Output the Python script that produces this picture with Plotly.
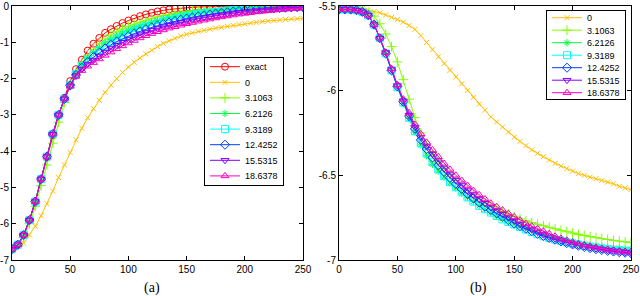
import plotly.graph_objects as go

X = list(range(0, 251, 5))

# ---------- panel (a) ----------
L_exact = [-6.70,-6.57,-6.32,-5.90,-5.38,-4.77,-4.17,-3.57,-3.02,-2.53,-2.07,-1.74,-1.48,-1.23,-1.04,-0.88,-0.74,-0.64,-0.55,-0.47,
           -0.40,-0.34,-0.28,-0.23,-0.19,-0.15,-0.12,-0.095,-0.075,-0.06,-0.045,-0.035,-0.027,-0.02,-0.015,-0.012,-0.009,-0.007,-0.005,-0.004,
           -0.003,-0.002,-0.002,-0.001,-0.001,-0.001,0,0,0,0,0]
L_0 = [-6.67,-6.62,-6.53,-6.31,-6.07,-5.78,-5.45,-5.10,-4.73,-4.38,-4.04,-3.69,-3.37,-3.08,-2.83,-2.60,-2.38,-2.18,-2.00,-1.83,
       -1.68,-1.55,-1.43,-1.32,-1.22,-1.12,-1.03,-0.96,-0.89,-0.83,-0.78,-0.74,-0.70,-0.67,-0.64,-0.61,-0.585,-0.56,-0.535,-0.51,
       -0.49,-0.47,-0.45,-0.43,-0.415,-0.40,-0.385,-0.37,-0.36,-0.35,-0.34]
L_31 = [-6.70,-6.60,-6.38,-6.00,-5.52,-4.95,-4.38,-3.78,-3.20,-2.66,-2.18,-1.82,-1.56,-1.36,-1.19,-1.04,-0.91,-0.80,-0.71,-0.63,
        -0.56,-0.50,-0.44,-0.39,-0.34,-0.30,-0.26,-0.23,-0.20,-0.175,-0.15,-0.13,-0.115,-0.10,-0.085,-0.075,-0.065,-0.055,-0.047,-0.04,
        -0.034,-0.029,-0.024,-0.02,-0.017,-0.014,-0.011,-0.009,-0.007,-0.005,-0.004]
L_62 = [-6.70,-6.58,-6.31,-5.90,-5.39,-4.77,-4.15,-3.53,-3.00,-2.56,-2.17,-1.86,-1.62,-1.43,-1.28,-1.14,-1.02,-0.92,-0.83,-0.75,
        -0.68,-0.61,-0.55,-0.50,-0.45,-0.40,-0.36,-0.32,-0.285,-0.255,-0.225,-0.20,-0.175,-0.155,-0.135,-0.12,-0.105,-0.09,-0.08,-0.07,
        -0.06,-0.052,-0.045,-0.039,-0.033,-0.028,-0.024,-0.02,-0.017,-0.014,-0.012]
L_93 = [-6.70,-6.58,-6.31,-5.90,-5.39,-4.77,-4.15,-3.53,-3.00,-2.56,-2.18,-1.88,-1.66,-1.48,-1.34,-1.21,-1.09,-0.99,-0.90,-0.82,
        -0.75,-0.68,-0.62,-0.565,-0.515,-0.47,-0.425,-0.385,-0.35,-0.315,-0.285,-0.255,-0.23,-0.205,-0.185,-0.165,-0.145,-0.13,-0.115,-0.10,
        -0.09,-0.08,-0.07,-0.06,-0.052,-0.045,-0.038,-0.032,-0.027,-0.023,-0.019]
L_124 = [-6.70,-6.58,-6.31,-5.90,-5.39,-4.77,-4.15,-3.53,-3.00,-2.56,-2.19,-1.90,-1.70,-1.54,-1.41,-1.29,-1.17,-1.07,-0.98,-0.90,
         -0.83,-0.76,-0.70,-0.64,-0.59,-0.54,-0.495,-0.455,-0.415,-0.38,-0.345,-0.315,-0.285,-0.26,-0.235,-0.21,-0.19,-0.17,-0.15,-0.135,
         -0.12,-0.105,-0.093,-0.082,-0.072,-0.063,-0.055,-0.047,-0.04,-0.034,-0.029]
L_155 = [-6.70,-6.58,-6.31,-5.90,-5.39,-4.77,-4.15,-3.53,-3.00,-2.56,-2.20,-1.92,-1.74,-1.60,-1.49,-1.38,-1.27,-1.17,-1.08,-1.00,
         -0.92,-0.85,-0.79,-0.73,-0.67,-0.62,-0.57,-0.53,-0.49,-0.45,-0.41,-0.38,-0.35,-0.32,-0.29,-0.265,-0.24,-0.215,-0.195,-0.175,
         -0.155,-0.14,-0.125,-0.11,-0.097,-0.085,-0.074,-0.064,-0.055,-0.047,-0.04]
L_186 = [-6.70,-6.58,-6.31,-5.90,-5.39,-4.77,-4.15,-3.53,-3.00,-2.56,-2.21,-1.94,-1.78,-1.66,-1.56,-1.46,-1.36,-1.27,-1.18,-1.10,
         -1.02,-0.95,-0.88,-0.82,-0.76,-0.71,-0.66,-0.61,-0.57,-0.53,-0.49,-0.455,-0.42,-0.39,-0.36,-0.33,-0.30,-0.275,-0.25,-0.225,
         -0.205,-0.185,-0.165,-0.147,-0.13,-0.115,-0.10,-0.087,-0.075,-0.064,-0.054]

# ---------- panel (b) ----------
R_0 = [-5.50,-5.50,-5.505,-5.51,-5.515,-5.525,-5.533,-5.54,-5.553,-5.567,-5.58,-5.595,-5.615,-5.638,-5.675,-5.715,-5.758,-5.80,-5.84,-5.88,
       -5.92,-5.96,-6.00,-6.04,-6.08,-6.115,-6.155,-6.185,-6.215,-6.245,-6.275,-6.30,-6.325,-6.35,-6.37,-6.39,-6.41,-6.43,-6.445,-6.46,
       -6.475,-6.49,-6.50,-6.51,-6.52,-6.53,-6.54,-6.55,-6.565,-6.575,-6.585]
R_31 = [-5.52,-5.52,-5.52,-5.522,-5.527,-5.535,-5.56,-5.605,-5.665,-5.74,-5.83,-5.935,-6.05,-6.16,-6.25,-6.32,-6.375,-6.42,-6.46,-6.495,
        -6.53,-6.56,-6.59,-6.615,-6.64,-6.66,-6.68,-6.70,-6.715,-6.73,-6.745,-6.757,-6.768,-6.779,-6.789,-6.798,-6.807,-6.816,-6.825,-6.833,
        -6.841,-6.848,-6.855,-6.862,-6.868,-6.874,-6.879,-6.884,-6.889,-6.893,-6.897]
R_62 = [-5.52,-5.52,-5.521,-5.525,-5.535,-5.555,-5.61,-5.69,-5.78,-5.88,-5.98,-6.075,-6.165,-6.245,-6.32,-6.385,-6.435,-6.475,-6.51,-6.545,
        -6.575,-6.605,-6.63,-6.655,-6.68,-6.70,-6.72,-6.74,-6.755,-6.77,-6.785,-6.80,-6.813,-6.826,-6.838,-6.85,-6.86,-6.87,-6.878,-6.886,
        -6.893,-6.90,-6.906,-6.912,-6.917,-6.922,-6.926,-6.93,-6.933,-6.936,-6.938]
R_93 = [-5.52,-5.52,-5.521,-5.525,-5.535,-5.555,-5.61,-5.69,-5.78,-5.88,-5.98,-6.07,-6.16,-6.24,-6.31,-6.37,-6.42,-6.465,-6.505,-6.54,
        -6.57,-6.60,-6.63,-6.655,-6.68,-6.70,-6.72,-6.74,-6.76,-6.775,-6.79,-6.805,-6.82,-6.835,-6.848,-6.86,-6.87,-6.88,-6.888,-6.896,
        -6.903,-6.91,-6.916,-6.922,-6.927,-6.932,-6.936,-6.94,-6.943,-6.946,-6.948]
R_124 = [-5.52,-5.52,-5.521,-5.525,-5.535,-5.555,-5.61,-5.69,-5.78,-5.88,-5.975,-6.065,-6.15,-6.225,-6.29,-6.345,-6.395,-6.44,-6.48,-6.515,
         -6.55,-6.58,-6.61,-6.635,-6.66,-6.685,-6.705,-6.725,-6.745,-6.765,-6.785,-6.80,-6.815,-6.83,-6.845,-6.858,-6.87,-6.88,-6.89,-6.90,
         -6.908,-6.916,-6.923,-6.93,-6.936,-6.941,-6.946,-6.95,-6.954,-6.957,-6.96]
R_155 = [-5.52,-5.52,-5.521,-5.525,-5.535,-5.555,-5.61,-5.69,-5.775,-5.875,-5.97,-6.06,-6.145,-6.215,-6.275,-6.33,-6.375,-6.42,-6.46,-6.495,
         -6.53,-6.56,-6.59,-6.615,-6.64,-6.665,-6.69,-6.71,-6.73,-6.75,-6.77,-6.79,-6.805,-6.82,-6.835,-6.85,-6.865,-6.875,-6.885,-6.895,
         -6.905,-6.913,-6.92,-6.927,-6.933,-6.938,-6.943,-6.947,-6.951,-6.955,-6.958]
R_186 = [-5.52,-5.52,-5.521,-5.525,-5.535,-5.555,-5.61,-5.69,-5.775,-5.87,-5.965,-6.05,-6.13,-6.20,-6.255,-6.305,-6.35,-6.39,-6.43,-6.465,
         -6.50,-6.53,-6.56,-6.59,-6.615,-6.64,-6.665,-6.685,-6.705,-6.725,-6.745,-6.765,-6.785,-6.80,-6.815,-6.83,-6.845,-6.86,-6.872,-6.883,
         -6.893,-6.902,-6.91,-6.918,-6.925,-6.932,-6.938,-6.943,-6.948,-6.952,-6.955]

NAMES = ["exact", "0", "3.1063", "6.2126", "9.3189", "12.4252", "15.5315", "18.6378"]
COLORS = ["#ff0000", "#ffbf00", "#80ff00", "#00ff40", "#00ffff", "#0040ff", "#8000ff", "#ff00bf"]
SYMBOLS = ["circle-open", "x-thin-open", "cross-thin-open", "asterisk-open", "square-open",
           "diamond-open", "triangle-down-open", "triangle-up-open"]
SIZES = [7, 5, 7, 6, 7, 7, 7, 7]

X_TICKS = [0, 50, 100, 150, 200, 250]
X_TICKTEXT = ["0", "50", "100", "150", "200", "250"]
YA_TICKS = [0, -1, -2, -3, -4, -5, -6, -7]
YA_TICKTEXT = ["0", "-1", "-2", "-3", "-4", "-5", "-6", "-7"]
YB_TICKS = [-5.5, -6, -6.5, -7]
YB_TICKTEXT = ["-5.5", "-6", "-6.5", "-7"]

left_series = [L_exact, L_0, L_31, L_62, L_93, L_124, L_155, L_186]
right_series = [R_0, R_31, R_62, R_93, R_124, R_155, R_186]

fig = go.Figure()
for i, ys in enumerate(left_series):
    fig.add_trace(go.Scatter(
        x=X, y=ys, name=NAMES[i], mode="lines+markers",
        line=dict(color=COLORS[i], width=1),
        marker=dict(symbol=SYMBOLS[i], size=SIZES[i], color=COLORS[i], line=dict(color=COLORS[i], width=1)),
        xaxis="x", yaxis="y", legend="legend"))
for j, ys in enumerate(right_series):
    i = j + 1
    fig.add_trace(go.Scatter(
        x=X, y=ys, name=NAMES[i], mode="lines+markers",
        line=dict(color=COLORS[i], width=1),
        marker=dict(symbol=SYMBOLS[i], size=SIZES[i], color=COLORS[i], line=dict(color=COLORS[i], width=1)),
        xaxis="x2", yaxis="y2", legend="legend2"))

W, H = 640, 296
ax_common = dict(showline=True, linecolor="black", linewidth=1, mirror="ticks", ticks="inside",
                 ticklen=4, tickcolor="black", showgrid=False, zeroline=False, automargin=False,
                 tickfont=dict(family="Liberation Sans", size=10, color="black"))
ydom = [1 - 260 / H, 1 - 6 / H]
leg_font = dict(family="Liberation Sans", size=9, color="black")
fig.update_layout(
    width=W, height=H, margin=dict(l=0, r=0, t=0, b=0, autoexpand=False),
    plot_bgcolor="white", paper_bgcolor="white", showlegend=True,
    xaxis=dict(domain=[12 / W, 303 / W], range=[0, 250], tickvals=X_TICKS, ticktext=X_TICKTEXT, anchor="y", **ax_common),
    yaxis=dict(domain=ydom, range=[-7, 0], tickvals=YA_TICKS, ticktext=YA_TICKTEXT, anchor="x", **ax_common),
    xaxis2=dict(domain=[339 / W, 631 / W], range=[0, 250], tickvals=X_TICKS, ticktext=X_TICKTEXT, anchor="y2", **ax_common),
    yaxis2=dict(domain=ydom, range=[-7, -5.5], tickvals=YB_TICKS, ticktext=YB_TICKTEXT, anchor="x2", **ax_common),
    legend=dict(x=204 / W, y=1 - 57 / H, xanchor="left", yanchor="top", bgcolor="white",
                bordercolor="black", borderwidth=1, font=leg_font, itemwidth=30, tracegroupgap=0),
    legend2=dict(x=546 / W, y=1 - 10 / H, xanchor="left", yanchor="top", bgcolor="white",
                 bordercolor="black", borderwidth=1, font=leg_font, itemwidth=30, tracegroupgap=0),
    annotations=[
        dict(text="(a)", x=152 / W, y=1 - 288 / H, xref="paper", yref="paper", showarrow=False,
             xanchor="center", yanchor="middle",
             font=dict(family="Liberation Serif", size=14, color="black")),
        dict(text="(b)", x=478 / W, y=1 - 288 / H, xref="paper", yref="paper", showarrow=False,
             xanchor="center", yanchor="middle",
             font=dict(family="Liberation Serif", size=14, color="black")),
    ],
)

POST = r"""
document.body.style.margin = '0px';
var gd = document.getElementById('{plot_id}');
function sq(cls, first, step, bottom) {
  try {
    var leg = gd.querySelector('g.' + cls);
    if (!leg) return;
    var tr = leg.querySelectorAll('g.traces');
    for (var i = 0; i < tr.length; i++) {
      var t = tr[i].getAttribute('transform') || '';
      var m = /translate\(\s*([-\d.e]+)[ ,]+([-\d.e]+)\s*\)/.exec(t);
      var x = m ? m[1] : 0;
      tr[i].setAttribute('transform', 'translate(' + x + ',' + (first + i * step) + ')');
    }
    var bg = leg.querySelector('rect.bg');
    if (bg) bg.setAttribute('height', first + (tr.length - 1) * step + bottom);
  } catch (e) {}
}
sq('legend', 9.7, 15.6, 9.3);
sq('legend2', 7.7, 12.5, 6.3);
"""
fig.write_html("out.html", post_script=POST, config={"displayModeBar": False})
